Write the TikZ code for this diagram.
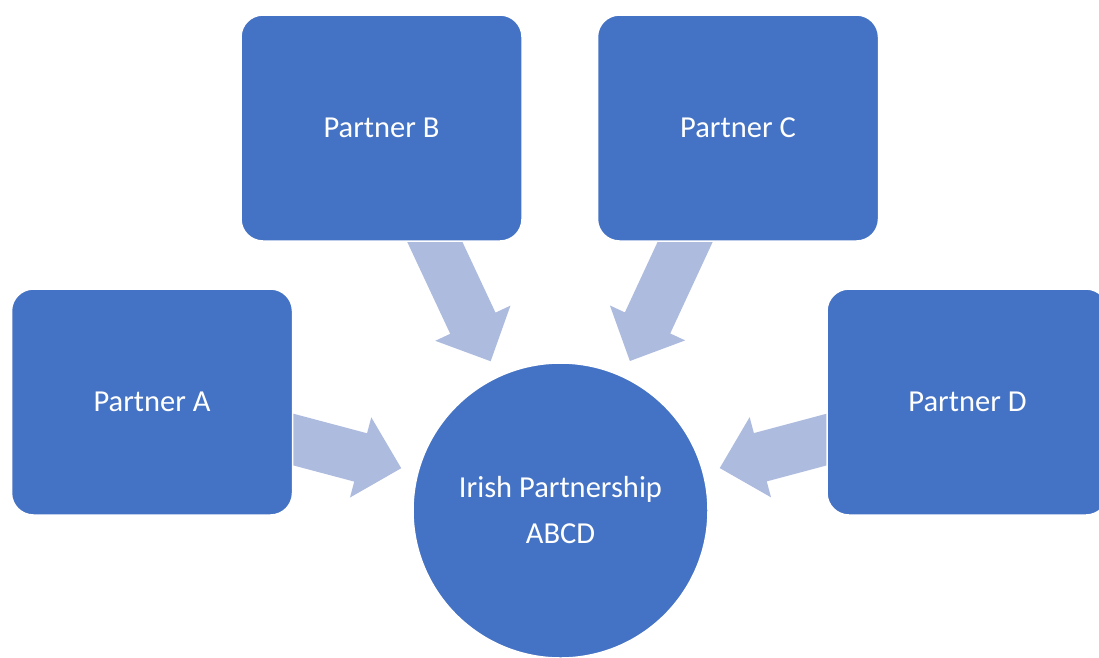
\documentclass[tikz,border=0pt]{standalone}
\usepackage{fontspec}
\setmainfont{Carlito}
\usetikzlibrary{calc,backgrounds}
\definecolor{boxblue}{RGB}{68,114,196}
\definecolor{arrowblue}{RGB}{173,187,222}
\tikzset{
  partner/.style={rounded corners=22pt, fill=boxblue, draw=white, line width=1.5pt,
    minimum width=281pt, minimum height=226pt, text=white, inner sep=0pt,
    font=\fontsize{30.5}{46}\selectfont},
  hub/.style={circle, fill=boxblue, draw=white, line width=1.5pt, minimum size=295pt,
    text=white, inner sep=0pt, align=center, font=\fontsize{30.5}{46}\selectfont},
  blockarrow/.style={fill=arrowblue, draw=none}
}
\newcommand\partnerarrow[2]{%
  \coordinate (T#1) at ($(#2.center)!164.8pt!(#1.center)$);
  \coordinate (H#1) at ($(#2.center)!206.8pt!(#1.center)$);
  \fill[blockarrow] ($(#1.center)!25pt!90:(#2.center)$) -- ($(H#1)!25pt!90:(T#1)$)
    -- ($(H#1)!41.5pt!90:(T#1)$) -- (T#1) -- ($(H#1)!41.5pt!-90:(T#1)$)
    -- ($(H#1)!25pt!-90:(T#1)$) -- ($(#1.center)!25pt!-90:(#2.center)$) -- cycle;
}
\begin{document}
\begin{tikzpicture}[x=1pt,y=-1pt]
  \useasboundingbox (0,0) rectangle (1099,657);
  \node[partner] (A) at (152,402) {Partner A};
  \node[partner] (B) at (381.5,128) {Partner B};
  \node[partner] (C) at (738,128) {Partner C};
  \node[partner] (D) at (967.5,402) {Partner D};
  \node[hub] (hub) at (560.5,510.5) {Irish Partnership\\ABCD};
  \begin{scope}[on background layer]
    \partnerarrow{A}{hub}
    \partnerarrow{B}{hub}
    \partnerarrow{C}{hub}
    \partnerarrow{D}{hub}
  \end{scope}
\end{tikzpicture}
\end{document}
